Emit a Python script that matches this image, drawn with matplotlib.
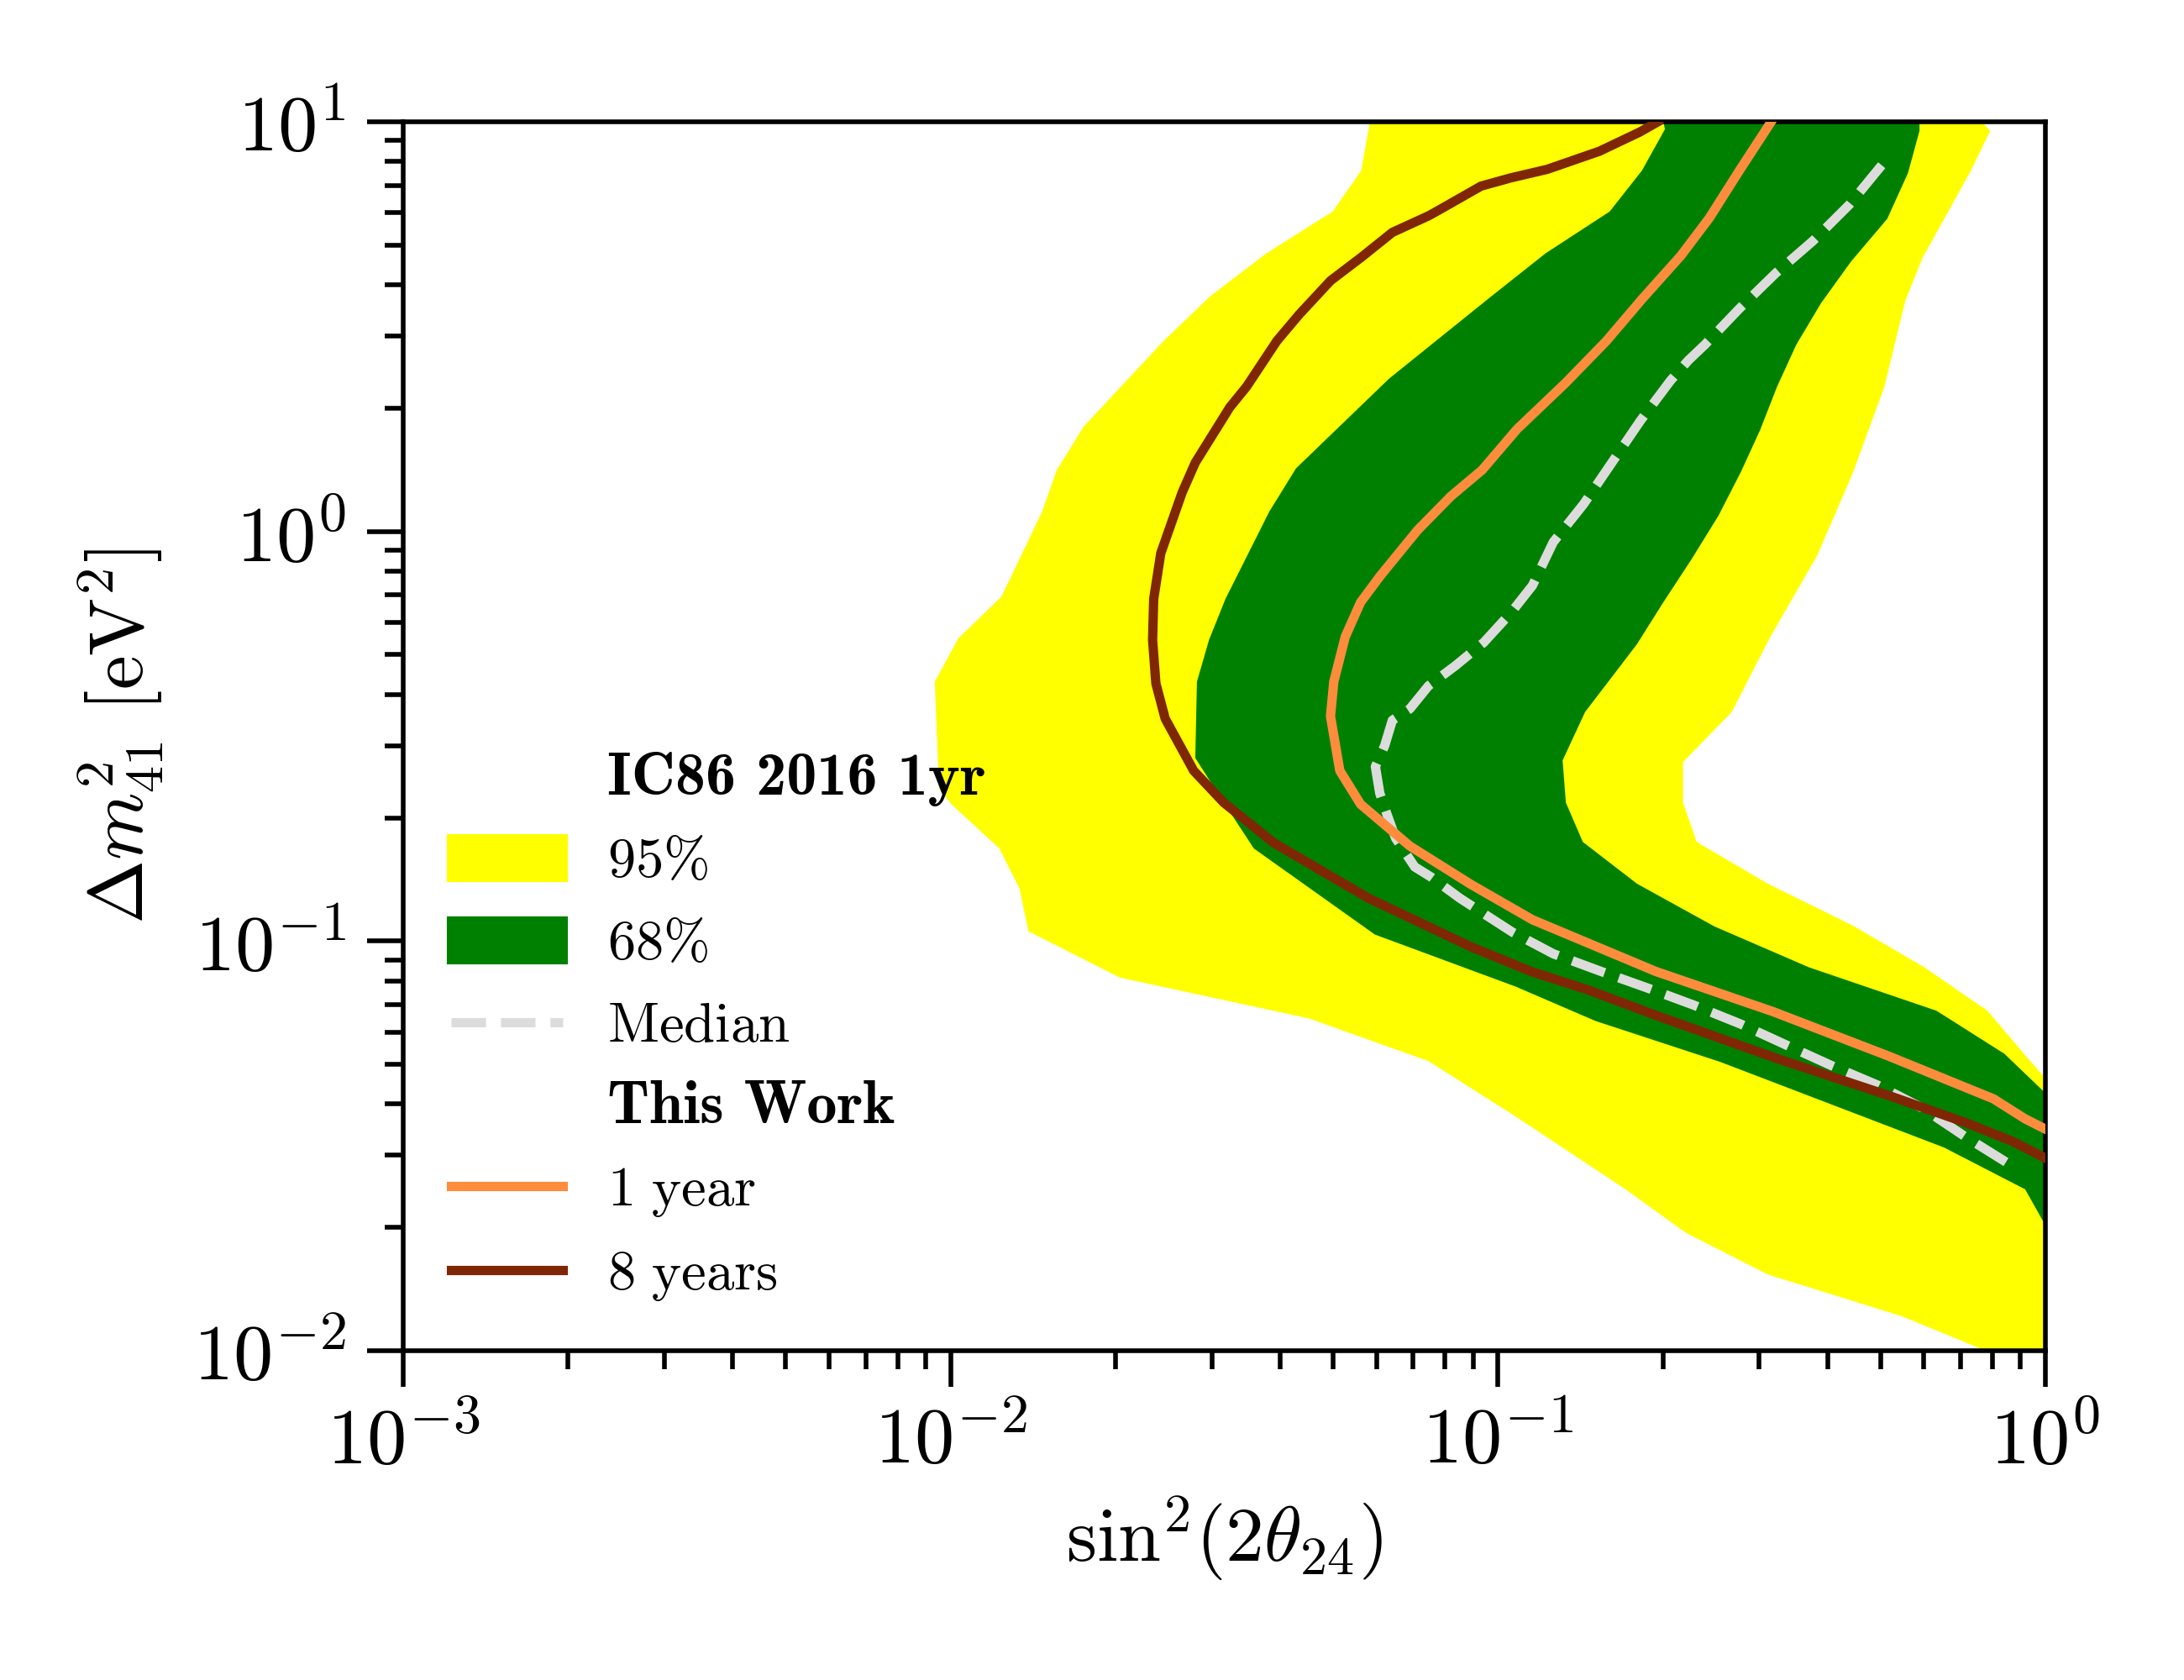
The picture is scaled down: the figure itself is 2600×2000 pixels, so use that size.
import numpy as np
import matplotlib
matplotlib.use("Agg")
import matplotlib.pyplot as plt
from matplotlib.patches import Patch
from matplotlib.lines import Line2D
from matplotlib.ticker import LogLocator, FuncFormatter, NullFormatter

plt.rcParams['mathtext.fontset'] = 'cm'
plt.rcParams['axes.linewidth'] = 1.0

# ---- data (log10 of sin^2(2theta24), log10 of dm^2_41 [eV^2]) ----
# IC86 2016 1yr, 95% band (closed outline)
band95_log_sin2 = [-1.234, -1.250, -1.302, -1.423, -1.525, -1.611, -1.757, -1.806, -1.833, -1.907,
                   -1.986, -2.029, -2.021, -1.997, -1.911, -1.874, -1.858, -1.691, -1.345, -1.127,
                   -0.968, -0.767, -0.657, -0.507, -0.262, -0.109, 0.0, 0.0, -0.038, -0.106,
                   -0.221, -0.352, -0.507, -0.637, -0.662, -0.662, -0.573, -0.504, -0.417, -0.352,
                   -0.294, -0.256, -0.224, -0.136, -0.101, -0.116]
band95_log_dm2 = [1.0, 0.881, 0.781, 0.679, 0.575, 0.465, 0.256, 0.150, 0.048, -0.159,
                  -0.261, -0.367, -0.629, -0.668, -0.774, -0.872, -0.976, -1.089, -1.189, -1.293,
                  -1.428, -1.606, -1.712, -1.814, -1.916, -2.0, -2.0, -1.335, -1.277, -1.170,
                  -1.064, -0.962, -0.860, -0.758, -0.662, -0.563, -0.441, -0.261, -0.059, 0.142,
                  0.354, 0.563, 0.669, 0.881, 0.978, 1.0]

# IC86 2016 1yr, 68% band (closed outline)
band68_log_sin2 = [-0.698, -0.695, -0.737, -0.796, -0.913, -1.015, -1.199, -1.369, -1.418, -1.498,
                   -1.528, -1.550, -1.553, -1.499, -1.446, -1.225, -0.968, -0.822, -0.594, -0.185,
                   -0.037, 0.0, 0.0, -0.075, -0.199, -0.432, -0.605, -0.746, -0.845, -0.876,
                   -0.882, -0.841, -0.746, -0.698, -0.646, -0.597, -0.556, -0.521, -0.490, -0.455,
                   -0.410, -0.355, -0.289, -0.251, -0.230, -0.230]
band68_log_dm2 = [1.0, 0.982, 0.881, 0.781, 0.679, 0.571, 0.373, 0.154, 0.048, -0.165,
                  -0.265, -0.367, -0.553, -0.666, -0.774, -0.984, -1.111, -1.195, -1.295, -1.504,
                  -1.606, -1.694, -1.371, -1.275, -1.170, -1.064, -0.964, -0.860, -0.758, -0.662,
                  -0.559, -0.441, -0.275, -0.173, -0.067, 0.039, 0.146, 0.248, 0.354, 0.456,
                  0.557, 0.659, 0.763, 0.875, 0.978, 1.0]

# Median sensitivity
median_log_sin2 = [-0.299, -0.358, -0.424, -0.493, -0.559, -0.622, -0.652, -0.685, -0.740, -0.792,
                   -0.844, -0.899, -0.937, -0.976, -1.026, -1.078, -1.127, -1.161, -1.193, -1.207,
                   -1.224, -1.216, -1.204, -1.187, -1.152, -1.123, -1.070, -0.974, -0.899, -0.812,
                   -0.726, -0.643, -0.556, -0.473, -0.389, -0.306, -0.224, -0.147, -0.069]
median_log_dm2 = [0.894, 0.798, 0.710, 0.630, 0.544, 0.456, 0.418, 0.368, 0.270, 0.168,
                  0.066, -0.026, -0.132, -0.198, -0.271, -0.328, -0.377, -0.433, -0.461, -0.523,
                  -0.574, -0.639, -0.686, -0.749, -0.819, -0.843, -0.895, -0.978, -1.031, -1.074,
                  -1.115, -1.156, -1.203, -1.254, -1.305, -1.352, -1.408, -1.477, -1.542]

# This work: 1 year
year1_log_sin2 = [-0.501, -0.559, -0.614, -0.666, -0.737, -0.802, -0.877, -0.965, -1.029, -1.086,
                  -1.147, -1.216, -1.251, -1.279, -1.300, -1.306, -1.289, -1.251, -1.161, -1.049,
                  -0.937, -0.712, -0.498, -0.286, -0.095, -0.037, 0.0]
year1_log_dm2 = [1.0, 0.881, 0.765, 0.673, 0.567, 0.465, 0.362, 0.250, 0.150, 0.086,
                 0.003, -0.110, -0.173, -0.257, -0.367, -0.451, -0.584, -0.666, -0.768, -0.862,
                 -0.948, -1.074, -1.172, -1.281, -1.385, -1.434, -1.459]

# This work: 8 years
year8_log_sin2 = [-0.708, -0.741, -0.815, -0.910, -0.977, -1.031, -1.098, -1.126, -1.193, -1.249,
                  -1.306, -1.363, -1.404, -1.459, -1.490, -1.553, -1.577, -1.616, -1.629, -1.631,
                  -1.625, -1.608, -1.556, -1.501, -1.410, -1.237, -1.051, -0.940, -0.836, -0.712,
                  -0.490, -0.282, -0.144, -0.060, 0.0]
year8_log_dm2 = [1.0, 0.975, 0.928, 0.884, 0.863, 0.843, 0.792, 0.771, 0.730, 0.670,
                 0.612, 0.530, 0.465, 0.354, 0.303, 0.168, 0.095, -0.053, -0.165, -0.265,
                 -0.371, -0.457, -0.584, -0.662, -0.760, -0.895, -1.013, -1.074, -1.119, -1.181,
                 -1.287, -1.379, -1.444, -1.489, -1.530]

legend_labels = ['IC86 2016 1yr', r'$\mathrm{95\%}$', r'$\mathrm{68\%}$',
                 r'$\mathrm{Median}$', 'This Work', r'$\mathrm{1\ year}$',
                 r'$\mathrm{8\ years}$']
header_rows = [0, 4]

c95, c68 = '#ffff00', '#008000'
c_med, c_1y, c_8y = '#dcdcdc', '#fd8d3c', '#7f2704'


def p(v):
    return 10.0 ** np.asarray(v)


fig = plt.figure(figsize=(6.5, 5), dpi=400)
ax = fig.add_axes([480 / 2600, 1 - 1608 / 2000, (2435 - 480) / 2600, (1608 - 145) / 2000])
ax.set_xscale('log')
ax.set_yscale('log')

ax.fill(p(band95_log_sin2), p(band95_log_dm2), color=c95, lw=0, zorder=1)
ax.fill(p(band68_log_sin2), p(band68_log_dm2), color=c68, lw=0, zorder=2)
ax.plot(p(median_log_sin2), p(median_log_dm2), color=c_med, lw=2, ls='--', zorder=3)
ax.plot(p(year1_log_sin2), p(year1_log_dm2), color=c_1y, lw=2, zorder=4)
ax.plot(p(year8_log_sin2), p(year8_log_dm2), color=c_8y, lw=2, zorder=5)

ax.set_xlim(1e-3, 1)
ax.set_ylim(1e-2, 10)

fmt = FuncFormatter(lambda v, pos: r'$10^{%d}$' % int(round(np.log10(v))))
for axis in (ax.xaxis, ax.yaxis):
    axis.set_major_locator(LogLocator(base=10, numticks=10))
    axis.set_minor_locator(LogLocator(base=10, subs=np.arange(2, 10), numticks=20))
    axis.set_major_formatter(fmt)
    axis.set_minor_formatter(NullFormatter())
ax.tick_params(which='major', direction='out', length=7.8, width=1.0, labelsize=17)
ax.tick_params(which='minor', direction='out', length=3.9, width=1.0)
ax.tick_params(axis='y', which='major', pad=4.5)
ax.tick_params(top=False, right=False, which='both')

ax.set_xlabel(r'$\mathrm{sin}^2(2\theta_{24})$', fontsize=16.5, labelpad=3)
ax.set_ylabel(r'$\Delta m^2_{41}\ [\mathrm{eV}^2]$', fontsize=16.5, labelpad=6)

blank = Patch(facecolor='none', edgecolor='none')
handles = [blank,
           Patch(facecolor=c95, edgecolor=c95, lw=2),
           Patch(facecolor=c68, edgecolor=c68, lw=2),
           Line2D([], [], color=c_med, lw=2, ls='--'),
           blank,
           Line2D([], [], color=c_1y, lw=2),
           Line2D([], [], color=c_8y, lw=2)]
leg = ax.legend(handles, legend_labels, loc='lower left', frameon=False, fontsize=12,
                labelspacing=0.48, borderaxespad=0.45)
for i in header_rows:
    leg.get_texts()[i].set_fontfamily('cmb10')
    leg.get_texts()[i].set_fontsize(13)

fig.savefig('out.png', dpi=400)
